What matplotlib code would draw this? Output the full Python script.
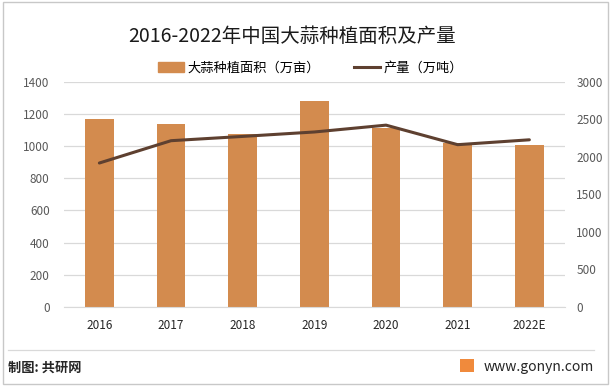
#!/usr/bin/env python3
import matplotlib
matplotlib.use("Agg")
import matplotlib.pyplot as plt
from matplotlib.patches import Rectangle
from matplotlib.lines import Line2D

plt.rcParams["font.family"] = ["Noto Sans CJK SC", "DejaVu Sans"]

years = ["2016", "2017", "2018", "2019", "2020", "2021", "2022E"]
area = [1170, 1139, 1077, 1281, 1112, 1019, 1003]       # 万亩
output = [1916, 2213, 2270, 2329, 2420, 2160, 2225]     # 万吨

BAR_COLOR = "#D38B4E"
LINE_COLOR = "#5E4030"
GRID_COLOR = "#D9D9D9"
TICK_COLOR = "#595959"


def main():
    fig = plt.figure(figsize=(6.11, 3.86), dpi=100)

    # outer frame
    fig.patches.append(Rectangle((0.005, 0.005), 0.99, 0.99, transform=fig.transFigure,
                                 fill=False, edgecolor="#C8C8C8", linewidth=1.0))

    ax = fig.add_axes([0.104, 0.2047, 0.821, 0.584])
    x = range(len(years))
    ax.bar(x, area, width=0.4, color=BAR_COLOR, zorder=2)
    ax.set_xlim(-0.5, len(years) - 0.5)
    ax.set_ylim(0, 1400)
    ax.set_yticks(range(0, 1401, 200))
    ax.set_xticks(list(x))
    ax.set_xticklabels(years, fontsize=8.5, color="#262626")
    ax.grid(axis="y", color=GRID_COLOR, linewidth=0.9, zorder=0)
    ax.set_axisbelow(True)
    for s in ["top", "right", "left"]:
        ax.spines[s].set_visible(False)
    ax.spines["bottom"].set_color(GRID_COLOR)
    ax.tick_params(axis="y", length=0, labelsize=8.5, labelcolor=TICK_COLOR, pad=10)
    ax.tick_params(axis="x", length=0, pad=9)

    ax2 = ax.twinx()
    ax2.plot(list(x), output, color=LINE_COLOR, linewidth=2.2, solid_capstyle="round", zorder=3)
    ax2.set_ylim(0, 3000)
    ax2.set_yticks(range(0, 3001, 500))
    for s in ["top", "right", "left", "bottom"]:
        ax2.spines[s].set_visible(False)
    ax2.tick_params(axis="y", length=0, labelsize=8.5, labelcolor=TICK_COLOR, pad=8)

    fig.text(0.478, 0.905, "2016-2022年中国大蒜种植面积及产量", ha="center", va="center",
             fontsize=14, color="#1a1a1a")

    # legend
    handles = [Rectangle((0, 0), 1, 1, color=BAR_COLOR),
               Line2D([0], [0], color=LINE_COLOR, linewidth=2.2)]
    fig.legend(handles, ["大蒜种植面积（万亩）", "产量（万吨）"], loc="center",
               bbox_to_anchor=(0.508, 0.823), ncol=2, frameon=False, fontsize=9.5,
               handlelength=2.0, handleheight=0.8, columnspacing=2.6, handletextpad=0.25)

    # footer
    fig.add_artist(Line2D([0.013, 0.972], [0.093, 0.093], transform=fig.transFigure,
                          color="#D9D9D9", linewidth=0.9))
    fig.text(0.013, 0.047, "制图: 共研网", ha="left", va="center", fontsize=9.5,
             color="#262626", fontweight="bold")
    fig.patches.append(Rectangle((0.753, 0.035), 0.022, 0.035, transform=fig.transFigure,
                                 facecolor="#F08A3C", edgecolor="none"))
    fig.text(0.972, 0.05, "www.gonyn.com", ha="right", va="center", fontsize=10,
             color="#262626")

    fig.savefig("out.png", dpi=100)
    plt.close(fig)


if __name__ == "__main__":
    main()
